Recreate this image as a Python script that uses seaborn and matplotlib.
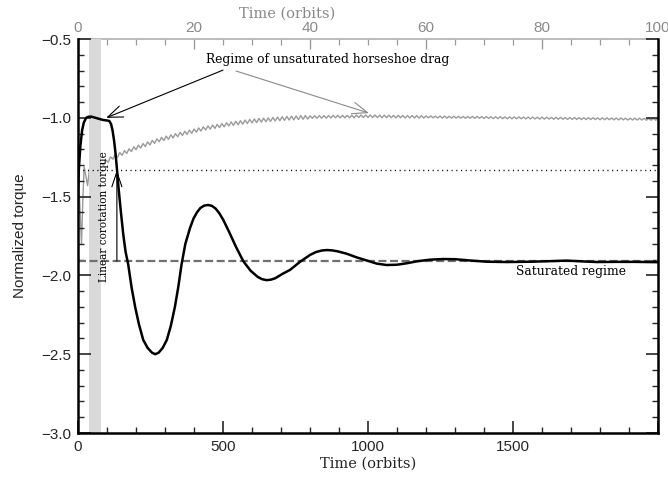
import numpy as np
import pandas as pd
import matplotlib
matplotlib.use("Agg")
import matplotlib.pyplot as plt
from matplotlib.ticker import MultipleLocator, FixedLocator, FuncFormatter
import seaborn as sns

# ---------------- data ----------------
# black curve: torque vs time (orbits, bottom axis 0-2000)
black_t = [0, 3, 8, 14, 20, 28, 36, 45, 55, 70, 85, 100, 108, 114, 119, 124, 129, 134, 140,
           148, 156, 164, 173, 185, 197, 210, 225, 240, 255, 266, 278, 292, 306, 320,
           334, 346, 357, 370, 386, 398, 410, 422, 435, 448, 461, 474, 487, 501, 520, 545,
           570, 595, 620, 635, 650, 665, 680, 705, 731, 766, 800, 820, 840, 858, 876, 895,
           926, 960, 995, 1030, 1064, 1100, 1133, 1170, 1214, 1259, 1300, 1350, 1409, 1480,
           1562, 1620, 1685, 1740, 1789, 1850, 1920, 2000]
black_v = [-1.45, -1.32, -1.18, -1.08, -1.03, -1.0, -0.993, -0.992, -0.997, -1.005, -1.013,
           -1.017, -1.02, -1.04, -1.08, -1.14, -1.22, -1.32, -1.45, -1.60, -1.74, -1.85,
           -1.93, -2.08, -2.20, -2.31, -2.41, -2.46, -2.49, -2.50, -2.49, -2.46, -2.41,
           -2.32, -2.20, -2.07, -1.93, -1.80, -1.70, -1.64, -1.60, -1.572, -1.557, -1.553,
           -1.558, -1.575, -1.605, -1.648, -1.72, -1.82, -1.91, -1.97, -2.01, -2.024,
           -2.03, -2.027, -2.018, -1.99, -1.965, -1.913, -1.87, -1.852, -1.842, -1.839,
           -1.841, -1.847, -1.862, -1.885, -1.905, -1.925, -1.934, -1.932, -1.923, -1.91,
           -1.90, -1.896, -1.897, -1.905, -1.913, -1.915, -1.913, -1.91, -1.906, -1.911,
           -1.915, -1.914, -1.914, -1.916]

# grey curve: torque vs time (orbits, top axis 0-100)
grey_o_early = [0.0, 0.25, 0.6, 0.85, 1.05, 1.3, 1.65, 2.05, 2.45, 2.8, 3.2, 3.6]
grey_v_early = [-1.30, -1.50, -1.80, -1.50, -1.31, -1.36, -1.43, -1.30, -1.34, -1.28, -1.32, -1.29]
grey_o_late = list(np.round(np.arange(4.0, 100.01, 0.4), 1))
grey_v_late = [
    -1.288, -1.302, -1.268, -1.282, -1.248, -1.262, -1.232, -1.250, -1.220, -1.238,
    -1.208, -1.226, -1.196, -1.214, -1.184, -1.202, -1.173, -1.192, -1.163, -1.182,
    -1.153, -1.172, -1.143, -1.162, -1.133, -1.152, -1.124, -1.144, -1.116, -1.136,
    -1.108, -1.128, -1.100, -1.120, -1.092, -1.112, -1.085, -1.105, -1.078, -1.098,
    -1.071, -1.091, -1.064, -1.084, -1.057, -1.077, -1.051, -1.072, -1.046, -1.067,
    -1.041, -1.062, -1.036, -1.057, -1.031, -1.052, -1.026, -1.048, -1.022, -1.044,
    -1.018, -1.040, -1.014, -1.036, -1.010, -1.032, -1.007, -1.030, -1.004, -1.027,
    -1.002, -1.025, -1.000, -1.022, -0.997, -1.020, -0.995, -1.018, -0.993, -1.016,
    -0.991, -1.014, -0.989, -1.013, -0.988, -1.011, -0.986, -1.009, -0.985, -1.008,
    -0.987, -1.003, -0.987, -1.003, -0.986, -1.002, -0.986, -1.002, -0.985, -1.001,
    -0.984, -1.000, -0.984, -1.000, -0.984, -1.000, -0.984, -1.000, -0.984, -1.000,
    -0.982, -0.998, -0.982, -0.998, -0.982, -0.998, -0.982, -0.998, -0.982, -0.998,
    -0.983, -0.999, -0.983, -0.999, -0.983, -0.999, -0.984, -1.000, -0.984, -1.000,
    -0.985, -1.001, -0.985, -1.001, -0.985, -1.001, -0.986, -1.002, -0.986, -1.002,
    -0.988, -1.000, -0.988, -1.000, -0.989, -1.001, -0.989, -1.001, -0.989, -1.002,
    -0.990, -1.002, -0.990, -1.002, -0.990, -1.002, -0.991, -1.003, -0.991, -1.003,
    -0.991, -1.003, -0.991, -1.003, -0.992, -1.004, -0.992, -1.004, -0.993, -1.005,
    -0.993, -1.005, -0.993, -1.005, -0.994, -1.006, -0.994, -1.006, -0.994, -1.006,
    -0.994, -1.006, -0.995, -1.007, -0.995, -1.007, -0.995, -1.007, -0.996, -1.008,
    -0.996, -1.008, -0.996, -1.008, -0.997, -1.009, -0.997, -1.009, -0.997, -1.009,
    -0.998, -1.010, -0.998, -1.010, -0.998, -1.010, -0.999, -1.011, -0.999, -1.011,
    -0.999, -1.011, -0.999, -1.011, -1.000, -1.012, -1.000, -1.012, -1.000, -1.012,
    -1.001, -1.013, -1.001, -1.013, -1.001, -1.013, -1.002, -1.014, -1.002, -1.014,
    -1.002, -1.014, -1.002, -1.014, -1.003, -1.015, -1.003, -1.015, -1.003, -1.015,
    -1.004]
grey_o = grey_o_early + grey_o_late
grey_v = grey_v_early + grey_v_late

linear_level = -1.331      # dotted line
saturated_level = -1.909   # dashed line
band_t = [38, 78]          # grey shaded band

y_ticks = [-3.0, -2.5, -2.0, -1.5, -1.0, -0.5]
x_ticks = [0, 500, 1000, 1500]
top_ticks = [0, 20, 40, 60, 80, 100]

# ---------------- plot ----------------
sns.set_style("ticks")
plt.rcParams['font.family'] = ['DejaVu Sans']

fig = plt.figure(figsize=(6.68, 4.79), dpi=100)
ax = fig.add_axes([0.1168, 0.0960, 0.8683, 0.8225])
ax2 = ax.twiny()

df_black = pd.DataFrame({"t": black_t, "v": black_v})
df_grey = pd.DataFrame({"o": grey_o, "v": grey_v})

ax.axvspan(band_t[0], band_t[1], color="#d9d9d9", lw=0, zorder=0)
ax.axhline(linear_level, color="black", lw=1.0, ls=(0, (0.8, 2.6)), zorder=1)
ax.axhline(saturated_level, color="#707070", lw=1.6, ls=(0, (3.6, 1.6)), zorder=1)

sns.lineplot(data=df_grey, x="o", y="v", ax=ax2, color="#9a9a9a", lw=1.0,
             estimator=None, sort=False, zorder=2)
sns.lineplot(data=df_black, x="t", y="v", ax=ax, color="black", lw=1.8,
             estimator=None, sort=False, zorder=3)

ax.set_xlim(0, 2000)
ax.set_ylim(-3.0, -0.5)
ax2.set_xlim(0, 100)
ax2.set_ylim(-3.0, -0.5)

# bring black axis in front of twin
ax.set_zorder(ax2.get_zorder() + 1)
ax.patch.set_visible(False)

serif = "DejaVu Serif"
sans = "Liberation Sans"

# annotations
ax.text(862, -0.627, "Regime of unsaturated horseshoe drag", ha="center", va="center",
        fontsize=8.8, family=serif, color="black")
ax.annotate("", xy=(97, -1.0), xytext=(500, -0.697),
            arrowprops=dict(arrowstyle="->,head_length=0.9,head_width=0.35", color="black",
                            lw=0.8, mutation_scale=12, shrinkA=0, shrinkB=0))
ax.annotate("", xy=(1003, -0.97), xytext=(545, -0.703),
            arrowprops=dict(arrowstyle="->,head_length=0.9,head_width=0.35", color="#8a8a8a",
                            lw=0.8, mutation_scale=12, shrinkA=0, shrinkB=0))
ax.annotate("", xy=(134, linear_level), xytext=(134, saturated_level),
            arrowprops=dict(arrowstyle="->,head_length=0.9,head_width=0.3", color="black",
                            lw=0.8, mutation_scale=12, shrinkA=0, shrinkB=0))
ax.text(90, -1.625, "Linear corotation torque", rotation=90, ha="center", va="center",
        fontsize=7.6, family=serif, color="black")
ax.text(1700, -1.978, "Saturated regime", ha="center", va="center",
        fontsize=8.8, family=serif, color="black")

# axes styling
ax.yaxis.set_major_locator(FixedLocator(y_ticks))
ax.yaxis.set_minor_locator(MultipleLocator(0.1))
ax.yaxis.set_major_formatter(FuncFormatter(lambda v, p: f"{v:.1f}".replace("-", "\u2212")))
ax.xaxis.set_major_locator(FixedLocator(x_ticks + [2000]))
ax.xaxis.set_minor_locator(MultipleLocator(100))
ax.xaxis.set_major_formatter(FuncFormatter(lambda v, p: "" if v >= 2000 else f"{int(v)}"))

ax.tick_params(axis="both", which="major", direction="in", length=9, width=1.2,
               top=False, right=True, labelsize=11, pad=5)
ax.tick_params(axis="both", which="minor", direction="in", length=4.5, width=1.0,
               top=False, right=True)
for lab in ax.get_xticklabels() + ax.get_yticklabels():
    lab.set_family(sans)

ax2.xaxis.set_major_locator(FixedLocator(top_ticks))
ax2.xaxis.set_minor_locator(MultipleLocator(5))
ax2.tick_params(axis="x", which="major", direction="in", length=7, width=1.0,
                colors="#9a9a9a", labelcolor="#8a8a8a", labelsize=11, pad=3)
ax2.tick_params(axis="x", which="minor", direction="in", length=4, width=0.9,
                colors="#9a9a9a")
for lab in ax2.get_xticklabels():
    lab.set_family(sans)
ax2.set_xlabel("")
ax2.set_ylabel("")

for s in ["left", "right", "bottom"]:
    ax.spines[s].set_linewidth(1.8)
    ax.spines[s].set_color("black")
ax.spines["top"].set_visible(False)
for s in ["left", "right", "bottom"]:
    ax2.spines[s].set_visible(False)
ax2.spines["top"].set_color("#b0b0b0")
ax2.spines["top"].set_linewidth(1.2)

ax.set_xlabel("Time (orbits)", fontsize=10.5, family=serif, labelpad=2)
ax.set_ylabel("Normalized torque", fontsize=11, family=sans, labelpad=10)
fig.text(287 / 668, 1 - 14 / 479, "Time (orbits)", ha="center", va="center",
         fontsize=10.5, family=serif, color="#8a8a8a")

fig.savefig("out.png", dpi=100)
